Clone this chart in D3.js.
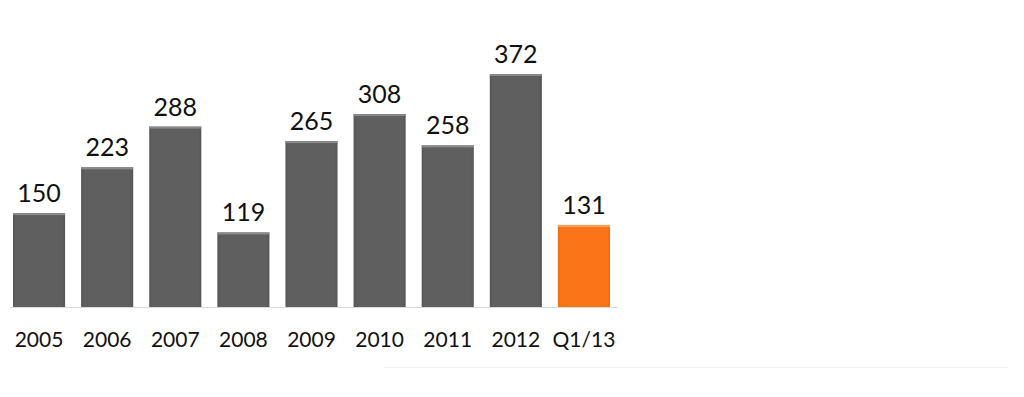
<!DOCTYPE html>
<html><head><meta charset="utf-8">
<script src="https://cdn.jsdelivr.net/npm/d3@7"></script>
<style>body{margin:0;background:#fff;}svg{display:block;}</style>
</head><body>
<svg id="c" width="1024" height="397"></svg>
<script>
const categories = ["2005","2006","2007","2008","2009","2010","2011","2012","Q1/13"];
const values = [150,223,288,119,265,308,258,372,131];
const highlight = ["Q1/13"];

const svg = d3.select("#c");
const baseY = 307;
const x = d3.scaleBand().domain(categories).range([13, 610]).paddingInner(16/68).paddingOuter(0);
const y = d3.scaleLinear().domain([0, 372]).range([baseY, 74]);

const defs = svg.append("defs");
const gGrey = defs.append("linearGradient").attr("id","gg").attr("x1","0").attr("x2","1");
gGrey.append("stop").attr("offset","0").attr("stop-color","#555");
gGrey.append("stop").attr("offset","0.06").attr("stop-color","#5f5f5f");
gGrey.append("stop").attr("offset","0.94").attr("stop-color","#5f5f5f");
gGrey.append("stop").attr("offset","1").attr("stop-color","#555");
const gOr = defs.append("linearGradient").attr("id","go").attr("x1","0").attr("x2","1");
gOr.append("stop").attr("offset","0").attr("stop-color","#f06c10");
gOr.append("stop").attr("offset","0.06").attr("stop-color","#fb7418");
gOr.append("stop").attr("offset","0.94").attr("stop-color","#fb7418");
gOr.append("stop").attr("offset","1").attr("stop-color","#f06c10");

// baseline
svg.append("line").attr("x1",10).attr("x2",618).attr("y1",baseY+0.5).attr("y2",baseY+0.5)
  .attr("stroke","#d9d9d9").attr("stroke-width",1);
// faint line bottom right
svg.append("line").attr("x1",383).attr("x2",1008).attr("y1",367.5).attr("y2",367.5)
  .attr("stroke","#f3f3f3").attr("stroke-width",1);

const bars = svg.append("g").selectAll("g").data(categories).join("g");
bars.append("rect")
  .attr("x", d => x(d)).attr("width", x.bandwidth())
  .attr("y", (d,i) => y(values[i])).attr("height", (d,i) => baseY - y(values[i]))
  .attr("fill", d => highlight.includes(d) ? "url(#go)" : "url(#gg)");
bars.append("rect")
  .attr("x", d => x(d)).attr("width", x.bandwidth())
  .attr("y", (d,i) => y(values[i])).attr("height", 2)
  .attr("fill", d => highlight.includes(d) ? "#f8a060" : "#8a8a8a");

bars.append("text")
  .attr("x", d => x(d) + x.bandwidth()/2)
  .attr("y", (d,i) => y(values[i]) - 11)
  .attr("text-anchor","middle")
  .attr("font-family","Lato, 'Open Sans', sans-serif")
  .attr("font-size", 25).attr("fill","#111")
  .text((d,i) => values[i]);

const xAxis = d3.axisBottom(x).tickSize(0).tickPadding(0);
const ax = svg.append("g").attr("transform", `translate(0,${baseY})`).call(xAxis);
ax.select(".domain").remove();
ax.selectAll("text")
  .attr("y", 40).attr("dy", 0)
  .attr("font-family","Lato, 'Open Sans', sans-serif")
  .attr("font-size", 21).attr("fill","#111");
</script>
</body></html>
